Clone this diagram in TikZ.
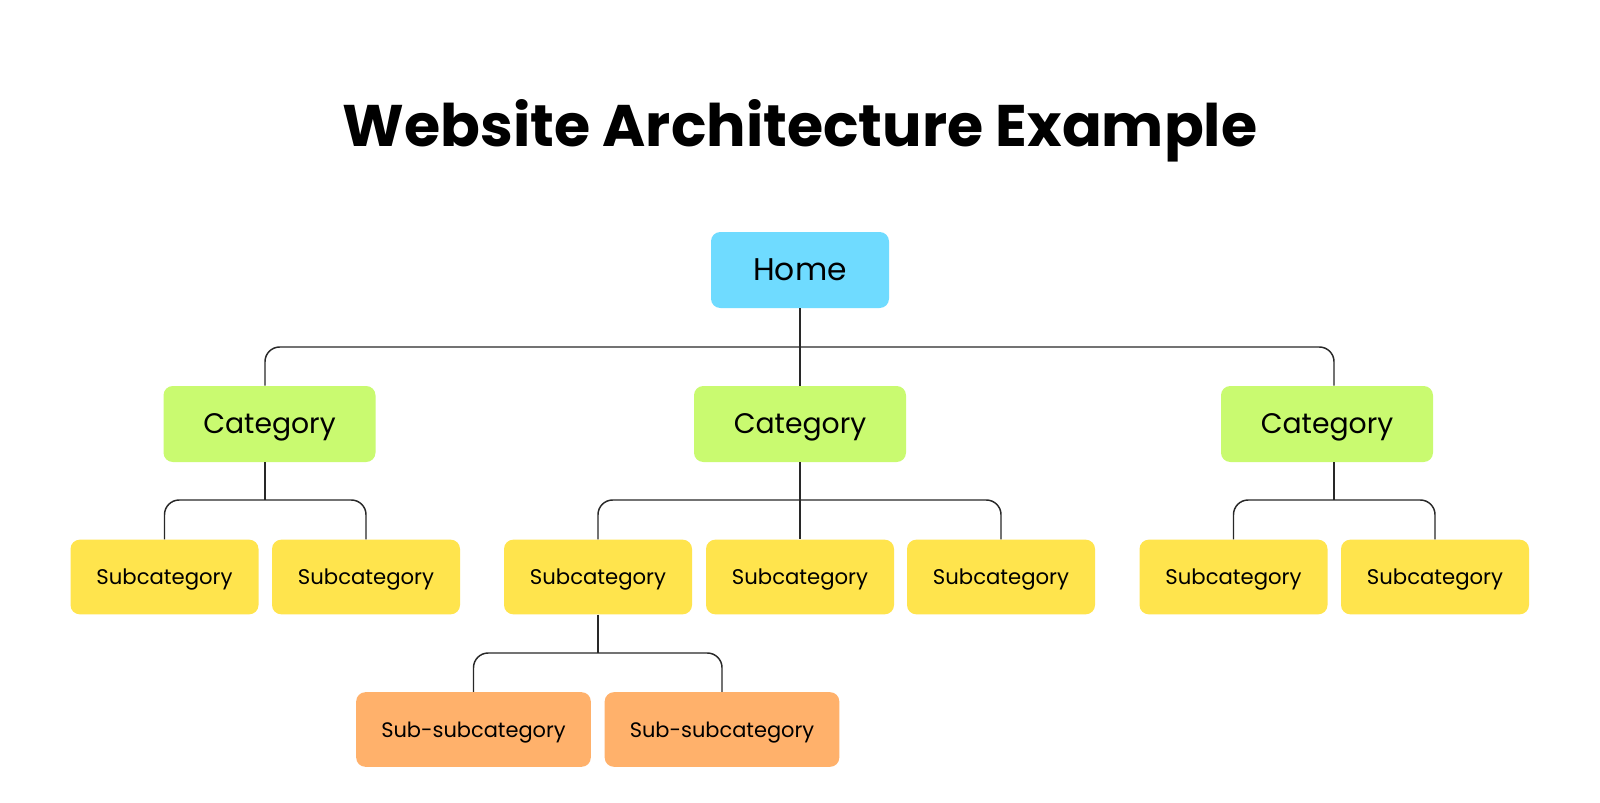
\documentclass[tikz,border=0pt]{standalone}
\usepackage{fontspec}
\setmainfont{Poppins}
\usepackage{xcolor}
\usetikzlibrary{positioning, calc}
\definecolor{WAHome}{RGB}{111,219,255}
\definecolor{WACat}{RGB}{201,250,112}
\definecolor{WASub}{RGB}{255,228,77}
\definecolor{WASubSub}{RGB}{255,177,107}
\definecolor{WALine}{RGB}{40,40,40}

\begin{document}
\begin{tikzpicture}[x=0.75pt, y=-0.75pt,
      box/.style={rectangle, rounded corners=7pt, inner sep=0pt, align=center,
                  text=black, text depth=0pt},
      home/.style={box, fill=WAHome, minimum width=133.5pt, minimum height=57pt,
                   font=\fontsize{23.5}{27}\selectfont},
      cat/.style={box, fill=WACat, minimum width=159pt, minimum height=57pt,
                  font=\fontsize{21.2}{25}\selectfont},
      sub/.style={box, fill=WASub, minimum width=141pt, minimum height=56pt,
                  font=\fontsize{15.9}{19}\selectfont},
      subsub/.style={box, fill=WASubSub, minimum width=176pt, minimum height=56pt,
                     font=\fontsize{15.7}{19}\selectfont},
      link/.style={draw=WALine, line width=1.1pt, rounded corners=11pt},
      ttl/.style={font=\fontsize{44}{52}\selectfont\bfseries, anchor=base}
    ]
    \path[fill=white] (0,0) rectangle (1600,803);

    % Title
    \node[ttl] (title) at (800,146) {Website Architecture Example};

    % Home and categories
    \node[home] (home) at (800,270) {Home};
    \node[cat] (catL) at (269.5,424) {Category};
    \node[cat] (catM) at (800,424)   {Category};
    \node[cat] (catR) at (1327,424)  {Category};

    % Subcategories
    \node[sub] (subA) at (164.5,577) {Subcategory};
    \node[sub] (subB) at (366,577)   {Subcategory};
    \node[sub] (subC) at (598,577)   {Subcategory};
    \node[sub] (subD) at (800,577)   {Subcategory};
    \node[sub] (subE) at (1001,577)  {Subcategory};
    \node[sub] (subF) at (1233.5,577) {Subcategory};
    \node[sub] (subG) at (1435,577)  {Subcategory};

    % Sub-subcategories
    \node[subsub] (ssA) at (473.5,729.5) {Sub-subcategory};
    \node[subsub] (ssB) at (722,729.5)   {Sub-subcategory};

    % Connectors
    \coordinate (busTop) at (800,347);
    \coordinate (busL) at (265,500);
    \coordinate (busM) at (800,500);
    \coordinate (busR) at (1334,500);
    \coordinate (busS) at (598,653);

    \draw[link] (home.south) -- (catM.north);
    \draw[link] (busL |- catL.north) |- (busTop) -| (busR |- catR.north);

    \draw[link] (busL |- catL.south) -- (busL);
    \draw[link] (subA.north) |- (busL) -| (subB.north);

    \draw[link] (catM.south) -- (subD.north);
    \draw[link] (subC.north) |- (busM) -| (subE.north);

    \draw[link] (busR |- catR.south) -- (busR);
    \draw[link] (subF.north) |- (busR) -| (subG.north);

    \draw[link] (subC.south) -- (busS);
    \draw[link] (ssA.north) |- (busS) -| (ssB.north);
  \end{tikzpicture}
\end{document}
